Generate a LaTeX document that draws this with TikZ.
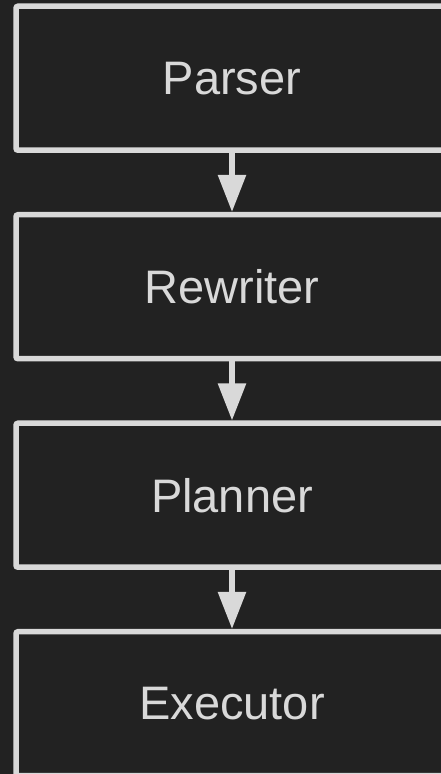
\documentclass[tikz,border=0pt]{standalone}
\usepackage{fontspec}
\setmainfont{Liberation Sans}
\usetikzlibrary{arrows.meta,positioning}
\definecolor{Ink}{HTML}{222222}
\definecolor{Chalk}{HTML}{D9D9D9}

\begin{document}
\begin{tikzpicture}[x=1pt,y=1pt,
    box/.style={draw=Chalk,fill=Ink,line width=5.5pt,rounded corners=2pt,
      minimum width=432pt,minimum height=144pt,
      font=\fontsize{47}{56}\selectfont,text=Chalk},
    arr/.style={-{Triangle[length=37pt,width=27pt]},line width=5.5pt,color=Chalk}
  ]
    \fill[Ink] (0,0) rectangle (441,774);
    \useasboundingbox (0,0) rectangle (441,774);
    \node[box] (parser) at (232,695.75) {Parser};
    \node[box,below=59pt of parser] (rewriter) {Rewriter};
    \node[box,below=59pt of rewriter] (planner) {Planner};
    \node[box,below=59pt of planner] (executor) {Executor};
    \draw[arr] (parser)--(rewriter);
    \draw[arr] (rewriter)--(planner);
    \draw[arr] (planner)--(executor);
  \end{tikzpicture}
\end{document}
